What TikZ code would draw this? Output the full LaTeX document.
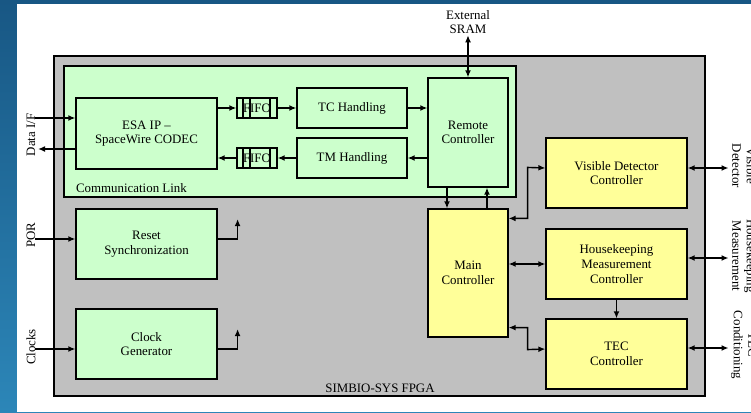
\documentclass[tikz,border=0pt]{standalone}
\usepackage{fontspec}
\setmainfont{Liberation Serif}
\usetikzlibrary{arrows.meta}
\definecolor{slidetop}{HTML}{185784}
\definecolor{slidebot}{HTML}{2C86B8}
\definecolor{fpgagray}{HTML}{C0C0C0}
\definecolor{linkgreen}{HTML}{CCFFCC}
\definecolor{ctrlyellow}{HTML}{FFFF99}
\begin{document}
\begin{tikzpicture}[x = .03cm, y = -.03cm, >={Latex[length=6pt, width=5pt]},
    every node/.style = {font = \fontsize{11}{12.5}\selectfont},
    greenbox/.style = {draw, fill = linkgreen, line width = 1pt, align = center, inner sep = 0pt},
    yellowbox/.style = {draw, fill = ctrlyellow, line width = 1pt, align = center, inner sep = 0pt},
    sig/.style = {line width = 1.2pt}]
  \useasboundingbox (0,0) rectangle (751,412);
  % slide background
  \fill [top color = slidetop, bottom color = slidebot] (0,0) rectangle (751,412);
  \fill [white] (17,4) rectangle (751,412);
  % fpga and communication link
  \draw [fill = fpgagray, line width = 1pt] (54,56) rectangle (705,396);
  \node (fpgalbl) at (380,388) {SIMBIO-SYS FPGA};
  \draw [fill = linkgreen, line width = 1pt] (64,66) rectangle (516,197);
  \node [anchor = west] (linklbl) at (72,188) {Communication Link};
  % blocks
  \node [greenbox, minimum width = 4.23cm, minimum height = 2.13cm] (esa) at (146.5,133.5)
    {ESA IP --\\SpaceWire CODEC};
  \node [greenbox, minimum width = 1.2cm, minimum height = .6cm] (fifotc) at (257,108) {FIFO};
  \node [greenbox, minimum width = 1.2cm, minimum height = .6cm] (fifotm) at (257,158) {FIFO};
  \foreach \d in {-14,-7,13} {
    \draw [line width = 1pt] (fifotc.north) ++(\d,0) -- ++(0,20);
    \draw [line width = 1pt] (fifotm.north) ++(\d,0) -- ++(0,20);
  }
  \node [greenbox, minimum width = 3.3cm, minimum height = 1.2cm] (tc) at (352,108) {TC Handling};
  \node [greenbox, minimum width = 3.3cm, minimum height = 1.2cm] (tm) at (352,158) {TM Handling};
  \node [greenbox, minimum width = 2.4cm, minimum height = 3.27cm] (remote) at (468,132.5)
    {Remote\\Controller};
  \node [greenbox, minimum width = 4.23cm, minimum height = 2.1cm] (reset) at (146.5,244)
    {Reset\\Synchronization};
  \node [greenbox, minimum width = 4.23cm, minimum height = 2.1cm] (clock) at (146.5,344)
    {Clock\\Generator};
  \node [yellowbox, minimum width = 2.4cm, minimum height = 3.84cm] (main) at (468,273)
    {Main\\Controller};
  \node [yellowbox, minimum width = 4.23cm, minimum height = 2.1cm] (vis) at (616.5,173)
    {Visible Detector\\Controller};
  \node [yellowbox, minimum width = 4.23cm, minimum height = 2.1cm] (hk) at (616.5,264)
    {Housekeeping\\Measurement\\Controller};
  \node [yellowbox, minimum width = 4.23cm, minimum height = 2.1cm] (tec) at (616.5,354)
    {TEC\\Controller};
  % outside labels
  \node [align = center, inner sep = 1pt] (sram) at (468,22) {External\\SRAM};
  \node [rotate = 90] (datalbl) at (31,135) {Data I/F};
  \node [rotate = 90] (porlbl) at (31,235) {POR};
  \node [rotate = 90] (clklbl) at (31,347) {Clocks};
  \node [rotate = -90, align = center] (vislbl) at (744,166) {Visible\\Detector};
  \node [rotate = -90, align = center] (hklbl) at (744,256) {Housekeeping\\Measurement};
  \node [rotate = -90, align = center] (teclbl) at (744,345) {TEC\\Conditioning};
  \coordinate (datain) at (35,118);
  \coordinate (dataout) at (38,149);
  \coordinate (porin) at (35,239);
  \coordinate (clkin) at (35,349);
  % communication link signals
  \draw [sig, ->] (datain) -- (datain -| esa.west);
  \draw [sig, ->] (dataout -| esa.west) -- (dataout);
  \draw [sig, ->] (esa.east |- fifotc.west) -- (fifotc.west);
  \draw [sig, ->] (fifotc.east) -- (tc.west);
  \draw [sig, ->] (tc.east) -- (tc.east -| remote.west);
  \draw [sig, ->] (remote.west |- tm.east) -- (tm.east);
  \draw [sig, ->] (tm.west) -- (fifotm.east);
  \draw [sig, ->] (fifotm.west) -- (fifotm.west -| esa.east);
  \draw [sig, <->] (sram.south) -- (remote.north);
  \draw [sig, ->] ([xshift = -.63cm]remote.south) -- ([xshift = -.63cm]main.north);
  \draw [sig, ->] ([xshift = .57cm]main.north) -- ([xshift = .57cm]remote.south);
  % reset and clocks
  \draw [sig, ->] (porin) -- (porin -| reset.west);
  \draw [sig, ->] (clkin) -- (clkin -| clock.west);
  \draw [sig, ->] ([yshift = .15cm]reset.east) -| ++(20,-20);
  \draw [sig, ->] ([yshift = -.15cm]clock.east) -| ++(20,-20);
  % controllers
  \draw [sig, <->] ([yshift = -.3cm]main.north east) -| ++(19,-51) -- ([yshift = .15cm]vis.west);
  \draw [sig, <->] (main.east |- hk.west) -- (hk.west);
  \draw [sig, <->] ([yshift = .3cm]main.south east) -| ++(19,22) -- ([yshift = .15cm]tec.west);
  \draw [sig, ->] (hk.south) -- (tec.north);
  \draw [sig, <->] ([yshift = .15cm]vis.east) -- ++(41,0);
  \draw [sig, <->] ([yshift = .18cm]hk.east) -- ++(41,0);
  \draw [sig, <->] ([yshift = .18cm]tec.east) -- ++(41,0);
\end{tikzpicture}
\end{document}
